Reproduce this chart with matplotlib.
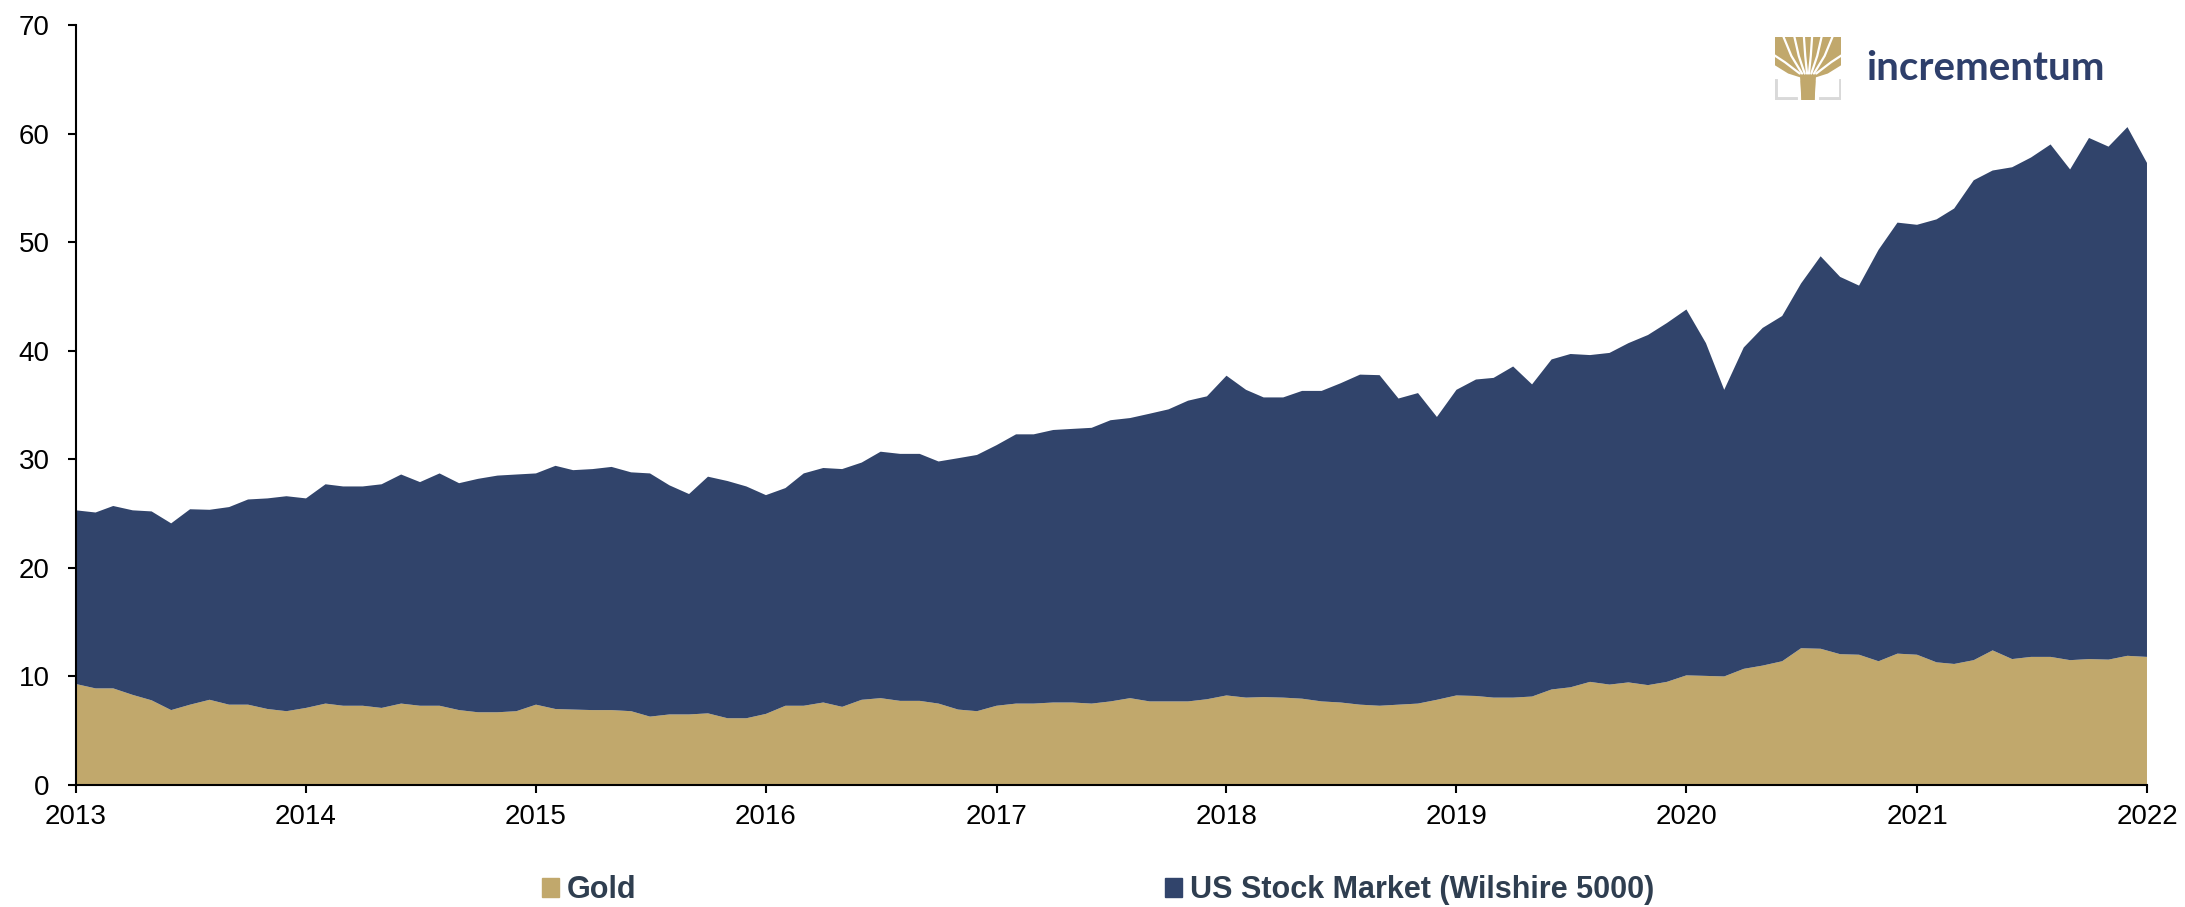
import numpy as np
import pandas as pd
import matplotlib.pyplot as plt
from matplotlib.patches import Patch, Polygon

# monthly values, Jan 2013 .. Jan 2022
months = pd.date_range('2013-01-01', '2022-01-01', freq='MS')

gold = [
    9.3, 8.9, 8.9, 8.3, 7.8, 6.9, 7.4, 7.85, 7.4, 7.4, 7.0, 6.8,        # 2013
    7.1, 7.5, 7.3, 7.3, 7.1, 7.5, 7.3, 7.3, 6.9, 6.7, 6.7, 6.8,         # 2014
    7.4, 7.0, 6.95, 6.9, 6.9, 6.8, 6.3, 6.5, 6.5, 6.6, 6.15, 6.15,      # 2015
    6.55, 7.3, 7.3, 7.6, 7.2, 7.85, 8.0, 7.75, 7.75, 7.5, 6.95, 6.8,    # 2016
    7.3, 7.5, 7.5, 7.6, 7.6, 7.5, 7.7, 8.0, 7.7, 7.7, 7.7, 7.9,         # 2017
    8.25, 8.05, 8.1, 8.05, 7.95, 7.7, 7.6, 7.4, 7.3, 7.4, 7.5, 7.85,    # 2018
    8.25, 8.2, 8.05, 8.05, 8.15, 8.8, 9.0, 9.5, 9.25, 9.45, 9.2, 9.5,   # 2019
    10.1, 10.05, 10.0, 10.7, 11.0, 11.4, 12.6, 12.55, 12.05, 12.0, 11.4, 12.1,  # 2020
    12.0, 11.3, 11.15, 11.5, 12.4, 11.6, 11.8, 11.8, 11.5, 11.6, 11.55, 11.9,   # 2021
    11.8,                                                                # 2022
]

# top of the stack (gold + stocks)
total = [
    25.3, 25.1, 25.7, 25.3, 25.2, 24.1, 25.4, 25.35, 25.6, 26.3, 26.4, 26.6,
    26.4, 27.7, 27.5, 27.5, 27.7, 28.6, 27.9, 28.7, 27.8, 28.2, 28.5, 28.6,
    28.7, 29.4, 29.0, 29.1, 29.3, 28.8, 28.7, 27.6, 26.8, 28.4, 28.0, 27.5,
    26.7, 27.35, 28.7, 29.2, 29.1, 29.7, 30.7, 30.5, 30.5, 29.8, 30.1, 30.4,
    31.3, 32.3, 32.3, 32.7, 32.8, 32.9, 33.6, 33.8, 34.2, 34.6, 35.4, 35.8,
    37.7, 36.4, 35.7, 35.7, 36.3, 36.3, 37.0, 37.8, 37.75, 35.6, 36.1, 33.9,
    36.4, 37.35, 37.5, 38.55, 36.9, 39.2, 39.7, 39.6, 39.8, 40.7, 41.45, 42.55,
    43.8, 40.7, 36.4, 40.3, 42.1, 43.2, 46.2, 48.7, 46.8, 46.0, 49.3, 51.8,
    51.6, 52.1, 53.1, 55.7, 56.6, 56.9, 57.8, 59.0, 56.7, 59.6, 58.8, 60.6,
    57.3,
]
stocks = np.array(total) - np.array(gold)

labels = ['Gold', 'US Stock Market (Wilshire 5000)']
year_ticks = pd.date_range('2013-01-01', '2022-01-01', freq='YS')
yticks = [0, 10, 20, 30, 40, 50, 60, 70]

GOLD = '#c1a86c'
NAVY = '#31446b'
TXT = '#2f3e50'

plt.rcParams['font.family'] = ['Liberation Sans', 'DejaVu Sans']

fig = plt.figure(figsize=(21.85, 9.07), dpi=100)
ax = fig.add_axes([0.0348, 0.1345, 0.9478, 0.8379])

ax.stackplot(months, gold, stocks, colors=[GOLD, NAVY], linewidth=0)

ax.set_xlim(months[0], months[-1])
ax.set_ylim(0, 70)
ax.set_yticks(yticks)
ax.set_xticks(year_ticks)
ax.set_xticklabels([str(d.year) for d in year_ticks])
ax.tick_params(axis='both', direction='out', length=6, width=1.5, labelsize=20, colors='black')
ax.tick_params(axis='x', pad=8)
ax.tick_params(axis='y', pad=13)
for s in ['top', 'right']:
    ax.spines[s].set_visible(False)
for s in ['left', 'bottom']:
    ax.spines[s].set_linewidth(1.5)

# legend along the bottom
handles = [Patch(color=GOLD), Patch(color=NAVY)]
leg = fig.legend(handles, labels, loc='center left', bbox_to_anchor=(542 / 2185, 1 - 890 / 907),
                 ncol=2, frameon=False, borderpad=0, borderaxespad=0,
                 handlelength=0.56, handleheight=0.56, handletextpad=0.26,
                 columnspacing=17.3, prop={'weight': 'bold', 'size': 22})
for t in leg.get_texts():
    t.set_color(TXT)

# logo, top right
lax = fig.add_axes([1775 / 2185, 1 - 100 / 907, 66 / 2185, 63 / 907])
lax.set_xlim(0, 1)
lax.set_ylim(0, 1)
lax.axis('off')
crown = [(0, 1), (1, 1), (1, 0.55), (0.8, 0.42), (0.62, 0.36), (0.6, 0.0),
         (0.4, 0.0), (0.38, 0.36), (0.2, 0.42), (0, 0.55)]
lax.add_patch(Polygon(crown, closed=True, color=GOLD, lw=0))
for dx, top in [(-0.5, 0.72), (-0.36, 1.02), (-0.2, 1.02), (-0.06, 1.02),
                (0.06, 1.02), (0.2, 1.02), (0.36, 1.02), (0.5, 0.72)]:
    xs = [0.5 + dx * 0.25, 0.5 + dx * 0.7, 0.5 + dx * 1.05]
    ys = [0.42, 0.6 + 0.1 * (top > 1), top]
    lax.plot(xs, ys, color='white', lw=1.6, solid_capstyle='round')
lax.plot([0.0, 0.0, 0.3], [0.3, 0.02, 0.02], color='#d9d9d9', lw=3.5)
lax.plot([1.0, 1.0, 0.7], [0.3, 0.02, 0.02], color='#d9d9d9', lw=3.5)
lax.add_patch(Polygon([(0.4, 0.0), (0.6, 0.0), (0.61, 0.3), (0.39, 0.3)], color=GOLD, lw=0))
fig.text(1866 / 2185, 1 - 68 / 907, 'incrementum', color='#2e3f6b', fontsize=29,
         fontweight='bold', family=['Lato', 'DejaVu Sans'], va='center', ha='left')

fig.savefig('out.png', dpi=100)
